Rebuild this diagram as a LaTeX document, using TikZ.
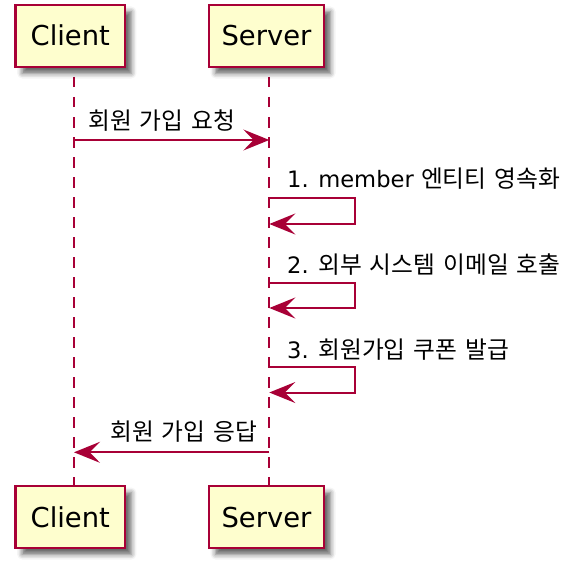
\documentclass[tikz,border=0pt]{standalone}
\usepackage{fontspec}
\setmainfont{DejaVu Sans}
\newfontfamily\kr{Noto Sans CJK KR}[Scale=1.05, WordSpace=1.5]
\usetikzlibrary{arrows.meta,shadows.blur}
\definecolor{puml}{HTML}{A80036}
\definecolor{pfill}{HTML}{FEFECE}
\tikzset{
  part/.style={draw=puml, line width=2.7pt, fill=pfill, inner sep=0pt,
    text height=20pt, text depth=0pt, minimum height=62pt,
    font=\fontsize{27.4}{32}\selectfont,
    blur shadow={shadow xshift=6.5pt, shadow yshift=-6.5pt, shadow blur radius=5pt, shadow opacity=60}},
  life/.style={draw=puml, line width=2pt, dash pattern=on 10.5pt off 9.5pt, dash phase=10pt},
  msg/.style={draw=puml, line width=2pt, -{Stealth[length=26pt, width=21pt, inset=10.4pt]}},
  lbl/.style={anchor=base west, inner sep=0pt, font=\fontsize{22.6}{27}\selectfont}
}
\begin{document}
\begin{tikzpicture}[x=1pt, y=-1pt]
\useasboundingbox (0,0) rectangle (588,567);
% lifelines
\coordinate (cTop) at (74,67);
\coordinate (cBot) at (74,486);
\coordinate (sTop) at (269.3,67);
\coordinate (sBot) at (269.3,486);
\draw[life] (cTop) -- (cBot);
\draw[life] (sTop) -- (sBot);
% participants
\node[part, minimum width=109.3pt] (c1) at (70.3,36) {Client};
\node[part, minimum width=115pt] (s1) at (266.5,36) {Server};
\node[part, minimum width=109.3pt] (c2) at (70.3,517) {Client};
\node[part, minimum width=115pt] (s2) at (266.5,517) {Server};
% message 1
\coordinate (m1a) at (74,140);
\coordinate (m1b) at (269.3,140);
\draw[msg] (m1a) -- (m1b);
\node[lbl] (l1) at (88,129) {\kr 회원 가입 요청};
% self messages
\coordinate (a1) at (269.3,198);
\coordinate (a1r) at (355,198);
\coordinate (a1b) at (355,224);
\coordinate (a1e) at (269.3,224);
\draw[msg] (a1) -- (a1r) -- (a1b) -- (a1e);
\node[lbl] (l2) at (287,187) {1. member {\kr 엔티티 영속화}};
\coordinate (a2) at (269.3,282.5);
\coordinate (a2r) at (355,282.5);
\coordinate (a2b) at (355,308);
\coordinate (a2e) at (269.3,308);
\draw[msg] (a2) -- (a2r) -- (a2b) -- (a2e);
\node[lbl] (l3) at (287,273.3) {2. {\kr 외부 시스템 이메일 호출}};
\coordinate (a3) at (269.3,367.3);
\coordinate (a3r) at (355,367.3);
\coordinate (a3b) at (355,392.5);
\coordinate (a3e) at (269.3,392.5);
\draw[msg] (a3) -- (a3r) -- (a3b) -- (a3e);
\node[lbl] (l4) at (287,358.3) {3. {\kr 회원가입 쿠폰 발급}};
% return
\coordinate (r1a) at (269.3,452.3);
\coordinate (r1b) at (74,452.3);
\draw[msg] (r1a) -- (r1b);
\node[lbl] (l5) at (110,440.7) {\kr 회원 가입 응답};
\end{tikzpicture}
\end{document}
